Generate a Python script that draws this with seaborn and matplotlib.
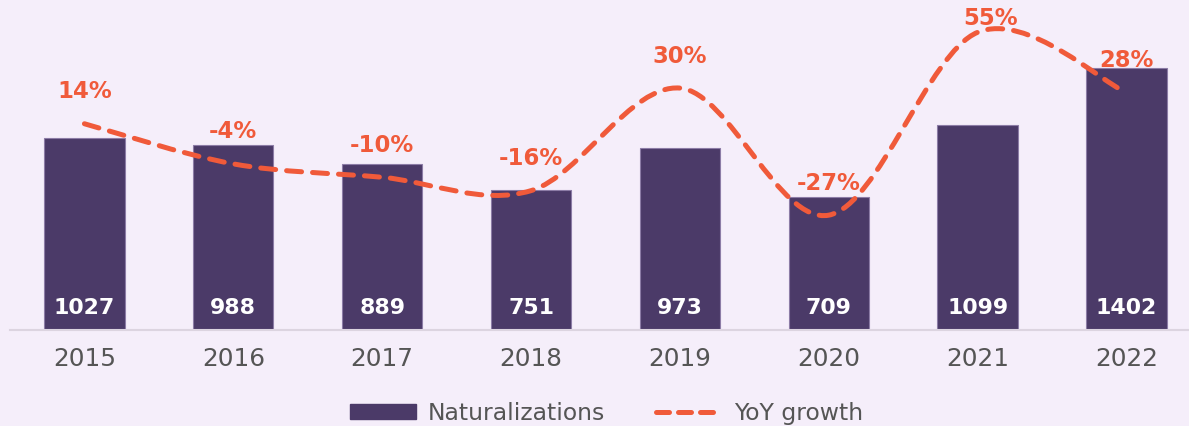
import numpy as np
import matplotlib.pyplot as plt
import seaborn as sns
from matplotlib.path import Path
from matplotlib.patches import PathPatch, Patch
from matplotlib.lines import Line2D

years = ['2015', '2016', '2017', '2018', '2019', '2020', '2021', '2022']
naturalizations = [1027, 988, 889, 751, 973, 709, 1099, 1402]
yoy_growth = [0.14, -0.04, -0.10, -0.16, 0.30, -0.27, 0.55, 0.28]
yoy_labels = ['14%', '-4%', '-10%', '-16%', '30%', '-27%', '55%', '28%']

bg = '#f5eefa'
bar_color = '#4b3a68'
line_color = '#f05a3a'
text_color = '#555555'

sns.set_style('white')
plt.rcParams['font.family'] = ['DejaVu Sans']
fig = plt.figure(figsize=(11.89, 4.26), dpi=100)
fig.patch.set_facecolor(bg)
ax = fig.add_axes([10 / 1189, 96 / 426, 1 - 10 / 1189, 330 / 426])
ax.set_facecolor(bg)

sns.barplot(x=years, y=naturalizations, color=bar_color, width=0.54,
            saturation=1, edgecolor='#8c7ca6', linewidth=0.8, ax=ax)
ax.set_xlim(-0.5, 7.42)
ax.set_ylim(0, 1765)
ax.set_yticks([])
ax.set_xlabel('')
ax.set_ylabel('')
for s in ['top', 'right', 'left']:
    ax.spines[s].set_visible(False)
ax.spines['bottom'].set_color('#dcd4e0')
ax.spines['bottom'].set_linewidth(1.5)
ax.tick_params(axis='x', length=0, pad=12.5, labelsize=17.8, labelcolor=text_color)

for i, v in enumerate(naturalizations):
    ax.annotate(str(v), (i, 0), xytext=(0, 16), textcoords='offset points',
                ha='center', va='center', color='white', fontsize=15.8,
                fontweight='bold')

# growth line on a twin axis, drawn as a smooth curve through the points
ax2 = ax.twinx()
ax2.set_ylim(-0.785, 0.695)
ax2.set_yticks([])
for s in ax2.spines.values():
    s.set_visible(False)

xs = np.arange(len(years), dtype=float)
ys = np.array(yoy_growth)
k = 1 / 6
verts = [(xs[0], ys[0])]
codes = [Path.MOVETO]
for i in range(len(xs) - 1):
    p0 = np.array([xs[max(i - 1, 0)], ys[max(i - 1, 0)]])
    p1 = np.array([xs[i], ys[i]])
    p2 = np.array([xs[i + 1], ys[i + 1]])
    p3 = np.array([xs[min(i + 2, len(xs) - 1)], ys[min(i + 2, len(xs) - 1)]])
    c1 = p1 + (p2 - p0) * k
    c2 = p2 - (p3 - p1) * k
    verts += [tuple(c1), tuple(c2), tuple(p2)]
    codes += [Path.CURVE4] * 3
curve = PathPatch(Path(verts, codes), facecolor='none', edgecolor=line_color,
                  linewidth=3.6, linestyle=(0, (3, 2.2)), capstyle='round')
ax2.add_patch(curve)

top = max(yoy_growth)
for i, (v, lab) in enumerate(zip(yoy_growth, yoy_labels)):
    off = 10 if v == top else 23
    ax2.annotate(lab, (i, v), xytext=(9 if v == top else 0, off),
                 textcoords='offset points', ha='center', va='center',
                 color=line_color, fontsize=16.4, fontweight='bold')

handles = [Patch(facecolor=bar_color, edgecolor=bar_color),
           Line2D([], [], color=line_color, linewidth=3.6,
                  linestyle=(0, (2.6, 1.8)), dash_capstyle='round')]
fig.legend(handles, ['Naturalizations', 'YoY growth'], loc='lower center',
           bbox_to_anchor=(0.51, -0.047), ncol=2, frameon=False, fontsize=16.9,
           labelcolor=text_color, handlelength=2.8, handleheight=0.6,
           columnspacing=2.2, handletextpad=0.5)

fig.savefig('out.png', dpi=100, facecolor=bg)
